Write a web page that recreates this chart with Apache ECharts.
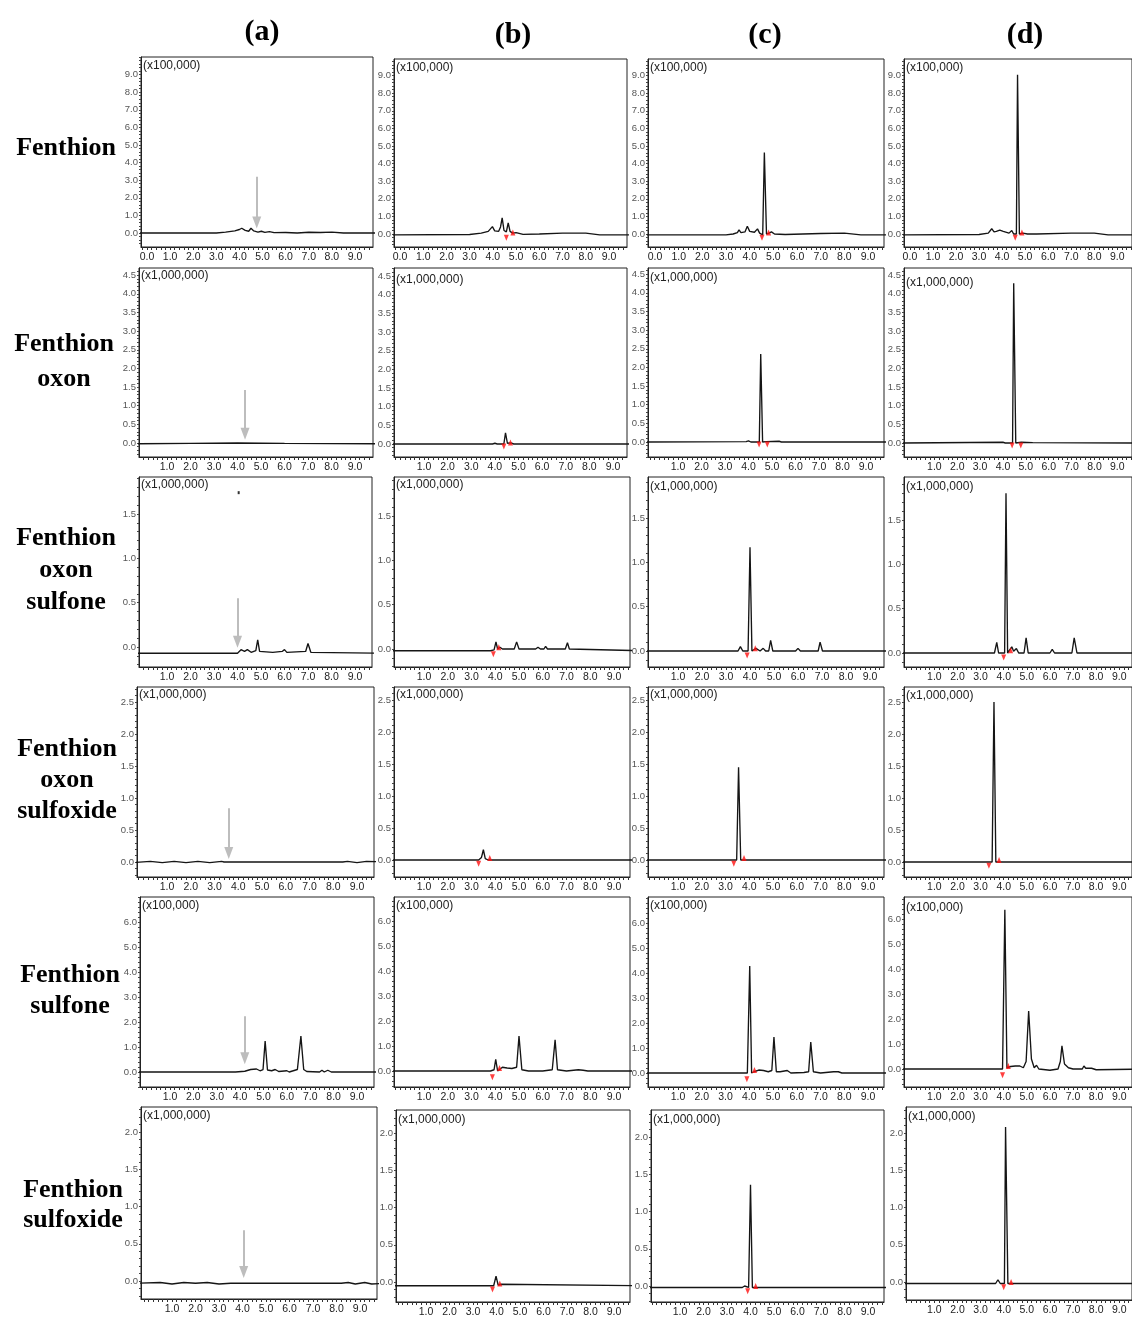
<!DOCTYPE html>
<html><head><meta charset="utf-8">
<script src="https://cdn.jsdelivr.net/npm/echarts@6/dist/echarts.min.js"></script>
<style>html,body{margin:0;padding:0;background:#fff}#c{width:1132px;height:1318px}</style>
</head><body><div id="c"></div>
<script>
// ---------- text ----------
const COLUMN_TITLES = ['(a)', '(b)', '(c)', '(d)'];
const ROW_TITLES = ['Fenthion', 'Fenthion\noxon', 'Fenthion\noxon\nsulfone', 'Fenthion\noxon\nsulfoxide', 'Fenthion\nsulfone', 'Fenthion\nsulfoxide'];
const SCALE_LABELS = ['(x100,000)', '(x1,000,000)', '(x1,000,000)', '(x1,000,000)', '(x100,000)', '(x1,000,000)'];

// ---------- tick labels ----------
const X_LABELS_FIRST_ROW = [0, 1, 2, 3, 4, 5, 6, 7, 8, 9];
const X_LABELS = [1, 2, 3, 4, 5, 6, 7, 8, 9];
const Y_LABELS_FENTHION = [0, 1, 2, 3, 4, 5, 6, 7, 8, 9];
const Y_LABELS_OXON = [0, 0.5, 1, 1.5, 2, 2.5, 3, 3.5, 4, 4.5];
const Y_LABELS_OXSULFONE = [0, 0.5, 1, 1.5];
const Y_LABELS_OXSULFOXIDE = [0, 0.5, 1, 1.5, 2, 2.5];
const Y_LABELS_SULFONE = [0, 1, 2, 3, 4, 5, 6];
const Y_LABELS_SULFOXIDE = [0, 0.5, 1, 1.5, 2];

// ---------- chromatograms [retention time (min), intensity] ----------
const FEN_A = [[-0.5,0],[3.0,0],[3.4,0.05],[3.8,0.12],[4.0,0.2],[4.1,0.27],[4.25,0.15],[4.4,0.1],[4.5,0.27],[4.62,0.12],[4.8,0.05],[4.95,0.1],[5.1,0.04],[5.3,0.08],[5.5,0.02],[6.0,0.03],[6.5,0],[7.0,0.04],[7.5,0.03],[8.0,0.05],[8.5,0],[10.2,0]];
const FEN_B = [[-0.5,-0.05],[3.0,-0.03],[3.5,0.05],[3.8,0.15],[3.98,0.42],[4.08,0.18],[4.25,0.15],[4.33,0.4],[4.4,0.92],[4.48,0.2],[4.58,0.12],[4.66,0.63],[4.74,0.15],[4.85,0.05],[5.0,0.08],[5.3,-0.02],[6.0,0],[7.0,0.05],[8.0,0.05],[8.6,-0.05],[10.2,-0.05]];
const FEN_C = [[-0.5,-0.05],[3.0,-0.05],[3.3,0],[3.48,0.08],[3.55,0.23],[3.63,0.08],[3.8,0.12],[3.9,0.44],[4.0,0.15],[4.2,0.1],[4.33,0.29],[4.42,0.05],[4.55,-0.05],[4.62,4.63],[4.71,0],[4.82,0.05],[4.92,0.12],[5.05,0],[5.5,-0.03],[7.0,0.03],[8.0,0.05],[8.7,-0.05],[10.2,-0.05]];
const FEN_D = [[-0.5,-0.05],[3.0,-0.03],[3.4,0.05],[3.55,0.3],[3.65,0.12],[3.75,0.15],[3.9,0.22],[4.05,0.15],[4.3,0.05],[4.42,0.2],[4.5,0],[4.62,0],[4.67,9.05],[4.75,0],[4.9,0.05],[5.1,0],[5.5,0],[7.0,0.05],[8.0,0.05],[8.6,-0.05],[10.2,-0.05]];

const OXON_A = [[-0.5,-0.02],[2.0,-0.01],[4.0,0],[6.0,-0.01],[10.2,-0.02]];
const OXON_B = [[-0.5,0],[3.9,0],[4.0,0.02],[4.1,0],[4.38,0],[4.45,0.3],[4.53,0.02],[4.68,0.03],[4.8,0],[10.2,0]];
const OXON_C = [[-0.5,0],[3.9,0.01],[4.0,0.03],[4.1,0],[4.46,0],[4.52,2.36],[4.6,0],[4.75,0.01],[5.3,0.02],[5.4,0],[10.2,0]];
const OXON_D = [[-0.5,0],[4.0,0.02],[4.1,0],[4.42,0],[4.47,4.28],[4.5,4.28],[4.56,0],[4.8,0.02],[5.3,0.01],[10.2,0]];

const OXSULFONE_A = [[-0.5,-0.07],[4.0,-0.07],[4.15,-0.03],[4.22,-0.01],[4.3,-0.05],[4.42,-0.03],[4.5,-0.02],[4.58,-0.06],[4.78,-0.04],[4.86,0.08],[4.94,-0.05],[5.5,-0.06],[5.9,-0.05],[6.0,-0.03],[6.1,-0.06],[6.9,-0.05],[7.0,0.04],[7.12,-0.06],[10.2,-0.07]];
const OXSULFONE_B = [[-0.5,-0.02],[3.8,-0.02],[3.95,-0.01],[4.03,0.08],[4.1,0],[4.2,0.02],[4.3,0],[4.8,0],[4.9,0.08],[5.0,0],[5.7,0],[5.8,0.02],[5.9,0],[6.05,0],[6.12,0.03],[6.2,0],[6.95,0],[7.04,0.07],[7.12,0],[10.2,-0.02]];
const OXSULFONE_C = [[-0.5,0],[3.5,0],[3.6,0.05],[3.7,0],[3.92,0],[4.0,1.17],[4.08,0],[4.25,0.03],[4.33,0.05],[4.42,0],[4.55,0.03],[4.65,0],[4.78,0],[4.86,0.12],[4.95,0],[5.9,0],[6.0,0.03],[6.1,0],[6.84,0],[6.92,0.1],[7.02,0],[10.2,0]];
const OXSULFONE_D = [[-0.5,0],[3.6,0],[3.7,0.12],[3.78,0],[4.04,0],[4.1,1.8],[4.17,0],[4.25,0.02],[4.35,0.07],[4.43,0.02],[4.55,0.05],[4.65,0],[4.88,0],[4.97,0.17],[5.06,0],[6.0,0],[6.1,0.04],[6.2,0],[6.95,0],[7.05,0.17],[7.17,0],[10.2,0]];

const OXSULFOXIDE_A = [[-0.5,-0.01],[0.3,0.01],[0.8,-0.01],[1.3,0.01],[1.8,-0.01],[2.3,0.01],[2.8,-0.01],[3.3,0.01],[3.4,0],[6.0,0],[8.4,0],[8.6,0.01],[9.0,-0.01],[9.4,0.01],[10.2,0]];
const OXSULFOXIDE_B = [[-0.5,0],[3.3,0],[3.42,0.04],[3.5,0.16],[3.58,0.02],[3.7,0],[10.2,0]];
const OXSULFOXIDE_C = [[-0.5,0],[3.47,0],[3.55,1.45],[3.64,0],[10.2,0]];
const OXSULFOXIDE_D = [[-0.5,0],[3.5,0],[3.58,2.5],[3.66,0],[10.2,0]];

const SULFONE_A = [[-0.5,0],[3.8,0],[4.2,0.03],[4.45,0.1],[4.7,0.12],[4.85,0.05],[4.98,0.1],[5.07,1.24],[5.17,0.08],[5.35,0.05],[5.5,0.1],[5.65,0.02],[6.0,0.05],[6.1,0],[6.45,0.1],[6.6,1.44],[6.72,0.1],[6.85,0.02],[7.4,0],[7.5,0.07],[7.6,0],[7.75,0.07],[7.9,0],[10.2,0]];
const SULFONE_B = [[-0.5,0],[3.8,0],[3.95,0.05],[4.02,0.47],[4.1,0],[4.3,0.15],[4.5,0.12],[4.7,0.1],[4.9,0.15],[5.0,1.4],[5.12,0.05],[5.4,0],[6.0,0],[6.4,0.05],[6.52,1.25],[6.62,0.05],[7.0,0],[7.5,0.05],[7.7,0.03],[7.9,0],[10.2,0]];
const SULFONE_C = [[-0.5,0],[3.92,0],[4.02,4.3],[4.1,0],[4.2,0.05],[4.4,0.12],[4.6,0.1],[4.8,0.05],[4.95,0.1],[5.04,1.44],[5.14,0.05],[5.3,0.05],[5.6,0.1],[5.75,0],[6.3,0.02],[6.5,0.05],[6.59,1.24],[6.7,0.05],[7.0,0],[7.55,0.05],[7.75,0.05],[7.9,0],[10.2,0]];
const SULFONE_D = [[-0.5,0],[3.95,0],[4.05,6.4],[4.14,0.05],[4.3,0.1],[4.5,0.12],[4.7,0.12],[4.85,0.05],[4.97,0.3],[5.08,2.33],[5.2,0.4],[5.32,0.05],[5.42,0.15],[5.52,0],[6.0,-0.05],[6.35,0],[6.45,0.3],[6.52,0.93],[6.63,0.2],[6.8,0.05],[7.0,0],[7.4,0],[7.47,0.12],[7.55,0.03],[7.8,0.03],[8.0,-0.03],[10.2,0]];

const SULFOXIDE_A = [[-0.5,-0.03],[0.5,-0.02],[1.0,-0.04],[1.5,-0.02],[2.0,-0.03],[2.5,-0.02],[3.0,-0.04],[3.5,-0.03],[6.0,-0.03],[6.05,-0.05],[6.1,-0.03],[8.2,-0.03],[8.5,-0.02],[8.8,-0.04],[9.2,-0.02],[9.5,-0.04],[10.2,-0.03]];
const SULFOXIDE_B = [[-0.5,-0.05],[3.88,-0.05],[3.98,0.08],[4.07,-0.04],[4.2,-0.03],[10.2,-0.05]];
const SULFOXIDE_C = [[-0.5,-0.02],[3.65,-0.02],[3.75,0],[3.83,-0.02],[3.92,-0.02],[4.0,1.36],[4.08,-0.02],[10.2,-0.02]];
const SULFOXIDE_D = [[-0.5,-0.02],[3.65,-0.02],[3.75,0.03],[3.85,-0.02],[4.03,-0.02],[4.08,2.08],[4.13,2.08],[4.18,-0.02],[10.2,-0.02]];

// ---------- peak integration marks [time, intensity, 1=up / 0=down] ----------
const FEN_B_MARKS = [[4.58,-0.22,0],[4.86,0.08,1]];
const FEN_C_MARKS = [[4.52,-0.22,0],[4.8,0.08,1]];
const FEN_D_MARKS = [[4.57,-0.22,0],[4.86,0.08,1]];
const OXON_B_MARKS = [[4.38,-0.07,0],[4.66,0.04,1]];
const OXON_C_MARKS = [[4.45,-0.07,0],[4.8,-0.07,0]];
const OXON_D_MARKS = [[4.4,-0.07,0],[4.78,-0.07,0]];
const OXSULFONE_B_MARKS = [[3.92,-0.06,0],[4.15,0.02,1]];
const OXSULFONE_C_MARKS = [[3.88,-0.05,0],[4.22,0.03,1]];
const OXSULFONE_D_MARKS = [[4.0,-0.05,0],[4.3,0.03,1]];
const OXSULFOXIDE_B_MARKS = [[3.3,-0.06,0],[3.77,0.03,1]];
const OXSULFOXIDE_C_MARKS = [[3.35,-0.06,0],[3.78,0.03,1]];
const OXSULFOXIDE_D_MARKS = [[3.36,-0.06,0],[3.8,0.03,1]];
const SULFONE_B_MARKS = [[3.88,-0.25,0],[4.18,0.12,1]];
const SULFONE_C_MARKS = [[3.9,-0.25,0],[4.22,0.12,1]];
const SULFONE_D_MARKS = [[3.95,-0.25,0],[4.2,0.12,1]];
const SULFOXIDE_B_MARKS = [[3.83,-0.1,0],[4.14,-0.02,1]];
const SULFOXIDE_C_MARKS = [[3.88,-0.07,0],[4.22,0,1]];
const SULFOXIDE_D_MARKS = [[4.0,-0.07,0],[4.32,0,1]];
const OXSULFONE_A_SPECK = [[4.05,1.74]];

// ---------- arrows in column (a): time, top, tip ----------
const ARROW_TIME = [4.75, 4.32, 4.0, 3.6, 4.2, 4.05];
const ARROW_TOP = [3.2, 1.42, 0.55, 0.84, 2.24, 0.68];
const ARROW_TIP = [0.6, 0.25, 0.06, 0.14, 0.55, 0.12];

const TRACES = [
  [FEN_A, FEN_B, FEN_C, FEN_D],
  [OXON_A, OXON_B, OXON_C, OXON_D],
  [OXSULFONE_A, OXSULFONE_B, OXSULFONE_C, OXSULFONE_D],
  [OXSULFOXIDE_A, OXSULFOXIDE_B, OXSULFOXIDE_C, OXSULFOXIDE_D],
  [SULFONE_A, SULFONE_B, SULFONE_C, SULFONE_D],
  [SULFOXIDE_A, SULFOXIDE_B, SULFOXIDE_C, SULFOXIDE_D]
];
const MARKS = [
  [[], FEN_B_MARKS, FEN_C_MARKS, FEN_D_MARKS],
  [[], OXON_B_MARKS, OXON_C_MARKS, OXON_D_MARKS],
  [[], OXSULFONE_B_MARKS, OXSULFONE_C_MARKS, OXSULFONE_D_MARKS],
  [[], OXSULFOXIDE_B_MARKS, OXSULFOXIDE_C_MARKS, OXSULFOXIDE_D_MARKS],
  [[], SULFONE_B_MARKS, SULFONE_C_MARKS, SULFONE_D_MARKS],
  [[], SULFOXIDE_B_MARKS, SULFOXIDE_C_MARKS, SULFOXIDE_D_MARKS]
];
const Y_LABELS = [Y_LABELS_FENTHION, Y_LABELS_OXON, Y_LABELS_OXSULFONE, Y_LABELS_OXSULFOXIDE, Y_LABELS_SULFONE, Y_LABELS_SULFOXIDE];

// ---------- layout (pixels) ----------
const BOX_LEFT = [[141,394,648,904],[139,394,648,904],[139,394,648,904],[137,394,648,904],[140,394,648,904],[141,396,651,906]];
const BOX_RIGHT = [[373,627,884,1137],[373,627,884,1137],[372,630,884,1137],[374,630,884,1137],[374,630,884,1137],[377,630,884,1137]];
const BOX_TOP = [[57,59,59,59],[268,268,268,268],[477,477,477,477],[687,687,687,687],[897,897,897,897],[1107,1110,1110,1107]];
const BOX_BOTTOM = [[247,247,247,247],[457,457,457,457],[667,667,667,667],[877,877,877,877],[1087,1087,1087,1087],[1299,1302,1302,1300]];
const ZERO_PX = [[233,234,234,234],[443,444,442,443],[647,649,651,653],[862,860,860,862],[1072,1071,1073,1069],[1281,1282,1286,1282]];
const Y_PX_PER_UNIT = [17.6, 37.3, 88.7, 64, 24.9, 74.5];
const Y_MINOR_STEP = [0.2, 0.1, 0.1, 0.1, 0.2, 0.1];
const X_ONE_PX = [[170.1,423.2,678.7,933.6],[167,424,678,935],[167,424,678,935],[167,424,678,935],[170,424,678,935],[172,426,680,935]];
const X_NINE_PX = [[355,609,868,1122],[355,613,866,1122],[355,614,870,1124],[357,614,868,1124],[357,614,868,1124],[360,614,868,1124]];
const SCALE_Y = [[66,68,68,68],[276,280,278,283],[485,485,487,487],[695,695,695,696],[906,906,906,908],[1116,1120,1120,1117]];
const COL_TITLE_POS = [[262,32],[513,35],[765,35],[1025,35]];
const ROW_TITLE_POS = [[66,148],[64,362],[66,570],[67,780],[70,991],[73,1205]];
const ROW_LINE_H = [32, 35, 32, 31, 31, 30];

function steps(lo, hi, st) {
  const out = [];
  for (let k = Math.ceil(lo / st - 1e-9); k * st <= hi + 1e-9; k++) out.push(+(k * st).toFixed(3));
  return out;
}

const grids = [], xAxes = [], yAxes = [], series = [], graphics = [];
const SANS = '"Liberation Sans", Arial, sans-serif';
const SERIF = '"Liberation Serif", "Times New Roman", serif';

for (let r = 0; r < 6; r++) {
  for (let c = 0; c < 4; c++) {
    const i = r * 4 + c;
    const L = BOX_LEFT[r][c], R = BOX_RIGHT[r][c], T = BOX_TOP[r][c], B = BOX_BOTTOM[r][c];
    grids.push({ left: L, top: T, width: R - L, height: B - T, show: true, borderColor: '#222', borderWidth: 1, backgroundColor: 'transparent' });
    const xppu = (X_NINE_PX[r][c] - X_ONE_PX[r][c]) / 8, x0 = X_ONE_PX[r][c] - xppu;
    const xmin = (L - x0) / xppu, xmax = (R - x0) / xppu;
    xAxes.push({
      type: 'value', gridIndex: i, min: xmin, max: xmax,
      axisLine: { show: true, onZero: false, lineStyle: { color: '#222', width: 1 } },
      axisTick: { show: true, length: 3, customValues: steps(xmin, xmax, 0.2), lineStyle: { color: '#333', width: 1 } },
      axisLabel: { customValues: r === 0 ? X_LABELS_FIRST_ROW : X_LABELS, formatter: v => v.toFixed(1), fontSize: 10.5, color: '#222', margin: 5, fontFamily: SANS },
      splitLine: { show: false }
    });
    const yppu = Y_PX_PER_UNIT[r], y0 = ZERO_PX[r][c];
    const ymin = -(B - y0) / yppu, ymax = (y0 - T) / yppu;
    yAxes.push({
      type: 'value', gridIndex: i, min: ymin, max: ymax,
      axisLine: { show: true, onZero: false, lineStyle: { color: '#222', width: 1 } },
      axisTick: { show: true, length: 2, customValues: steps(ymin, ymax, Y_MINOR_STEP[r]), lineStyle: { color: '#444', width: 1 } },
      axisLabel: { customValues: Y_LABELS[r], formatter: v => v.toFixed(1), fontSize: 9.5, color: '#555', margin: 3, fontFamily: SANS },
      splitLine: { show: false }
    });
    const line = {
      type: 'line', xAxisIndex: i, yAxisIndex: i, data: TRACES[r][c],
      showSymbol: false, symbol: 'none', silent: true, animation: false, clip: true, z: 3,
      lineStyle: { color: '#151515', width: 1.35 }
    };
    if (c === 0) {
      line.markLine = {
        silent: true, animation: false, symbol: ['none', 'triangle'], symbolSize: [9, 12],
        lineStyle: { color: '#bdbdbd', width: 2, type: 'solid' }, label: { show: false },
        data: [[{ coord: [ARROW_TIME[r], ARROW_TOP[r]] }, { coord: [ARROW_TIME[r], ARROW_TIP[r]] }]]
      };
    }
    series.push(line);
    if (MARKS[r][c].length) {
      series.push({
        type: 'scatter', xAxisIndex: i, yAxisIndex: i, silent: true, animation: false, z: 4,
        symbol: 'triangle', symbolSize: [5, 6], itemStyle: { color: '#ff1010' },
        data: MARKS[r][c].map(m => ({ value: [m[0], m[1]], symbolRotate: m[2] ? 0 : 180 }))
      });
    }
    if (r === 2 && c === 0) {
      series.push({ type: 'scatter', xAxisIndex: i, yAxisIndex: i, silent: true, animation: false, symbol: 'rect', symbolSize: [2, 3], itemStyle: { color: '#000' }, data: OXSULFONE_A_SPECK });
    }
    graphics.push({ type: 'text', x: L + 2, y: SCALE_Y[r][c], silent: true,
      style: { text: SCALE_LABELS[r], font: '12px ' + SANS, fill: '#222', verticalAlign: 'middle', textVerticalAlign: 'middle' } });
  }
}
COLUMN_TITLES.forEach((t, c) => graphics.push({ type: 'text', x: COL_TITLE_POS[c][0], y: COL_TITLE_POS[c][1], silent: true,
  style: { text: t, font: 'bold 30px ' + SERIF, fill: '#000', align: 'center', verticalAlign: 'middle', textAlign: 'center', textVerticalAlign: 'middle' } }));
ROW_TITLES.forEach((t, r) => graphics.push({ type: 'text', x: ROW_TITLE_POS[r][0], y: ROW_TITLE_POS[r][1], silent: true,
  style: { text: t, font: 'bold 26px ' + SERIF, fill: '#000', lineHeight: ROW_LINE_H[r], align: 'center', verticalAlign: 'middle', textAlign: 'center', textVerticalAlign: 'middle' } }));

const chart = echarts.init(document.getElementById('c'), null, { renderer: 'canvas' });
chart.setOption({ backgroundColor: '#fff', animation: false, grid: grids, xAxis: xAxes, yAxis: yAxes, series: series, graphic: graphics });
</script></body></html>
